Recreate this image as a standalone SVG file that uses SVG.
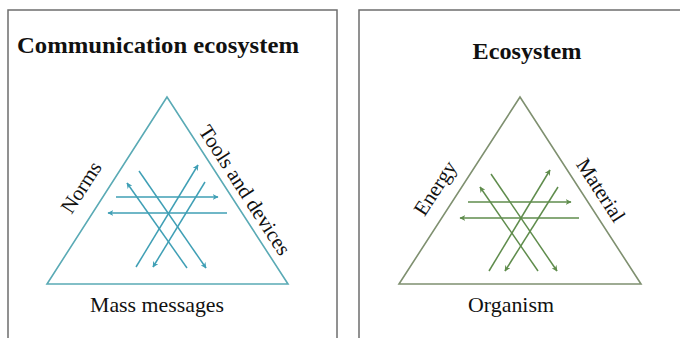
<svg xmlns="http://www.w3.org/2000/svg" width="680" height="338" viewBox="0 0 680 338">
<defs>
<style>
.frame{fill:none;stroke:#6e6e6e;stroke-width:1.5}
.title{font-family:'Liberation Serif','Times New Roman','DejaVu Serif',serif;font-weight:bold;font-size:23px;fill:#111}
.lbl{font-family:'Liberation Serif','Times New Roman','DejaVu Serif',serif;font-size:21px;fill:#111}
.triL{fill:none;stroke:#5aaab5;stroke-width:1.6}
.triR{fill:none;stroke:#7f9070;stroke-width:1.6}
.arL{fill:none;stroke:#3f9fb5;stroke-width:1.5;marker-end:url(#hL)}
.arR{fill:none;stroke:#5f8c4c;stroke-width:1.5;marker-end:url(#hR)}
</style>
<marker id="hL" viewBox="0 0 10 10" refX="9" refY="5" markerWidth="6" markerHeight="6" markerUnits="userSpaceOnUse" orient="auto"><path d="M0,0 L10,5 L0,10 L3,5 Z" fill="#3f9fb5"/></marker>
<marker id="hR" viewBox="0 0 10 10" refX="9" refY="5" markerWidth="6" markerHeight="6" markerUnits="userSpaceOnUse" orient="auto"><path d="M0,0 L10,5 L0,10 L3,5 Z" fill="#5f8c4c"/></marker>
</defs>
<rect width="680" height="338" fill="#fff"/>
<g id="panel-communication">
<rect class="frame" x="8" y="10" width="329" height="340"/>
<text class="title" font-family="Liberation Serif, serif" x="17" y="53" textLength="282" lengthAdjust="spacingAndGlyphs">Communication ecosystem</text>
<polygon class="triL" points="167,97 47,284 288,284"/>
<text class="lbl" font-family="Liberation Serif, serif" x="87" y="191" text-anchor="middle" transform="rotate(-57 87 191)">Norms</text>
<text class="lbl" font-family="Liberation Serif, serif" x="239" y="194" text-anchor="middle" transform="rotate(57 239 194)">Tools and devices</text>
<text class="lbl" font-family="Liberation Serif, serif" x="157" y="312" text-anchor="middle" textLength="134" lengthAdjust="spacingAndGlyphs">Mass messages</text>
</g>
<g id="panel-ecosystem">
<rect class="frame" x="359" y="10" width="340" height="340"/>
<text class="title" font-family="Liberation Serif, serif" x="527" y="59" text-anchor="middle" textLength="109" lengthAdjust="spacingAndGlyphs">Ecosystem</text>
<polygon class="triR" points="520,97 399,284 641,284"/>
<text class="lbl" font-family="Liberation Serif, serif" x="441" y="192" text-anchor="middle" transform="rotate(-57 441 192)">Energy</text>
<text class="lbl" font-family="Liberation Serif, serif" x="595" y="194" text-anchor="middle" transform="rotate(57 595 194)">Material</text>
<text class="lbl" font-family="Liberation Serif, serif" x="511" y="312" text-anchor="middle" textLength="86" lengthAdjust="spacingAndGlyphs">Organism</text>
</g>
<g id="connectors">
<line class="arL" x1="116" y1="197" x2="218" y2="197"/>
<line class="arL" x1="227" y1="213" x2="108" y2="213"/>
<line class="arL" x1="139" y1="171" x2="206" y2="268"/>
<line class="arL" x1="187" y1="268" x2="127" y2="183"/>
<line class="arL" x1="136" y1="267" x2="198" y2="165"/>
<line class="arL" x1="205" y1="182" x2="153" y2="267"/>
<line class="arR" x1="468" y1="202" x2="571" y2="202"/>
<line class="arR" x1="579" y1="218" x2="460" y2="218"/>
<line class="arR" x1="491" y1="174" x2="557" y2="271"/>
<line class="arR" x1="538" y1="271" x2="480" y2="187"/>
<line class="arR" x1="489" y1="271" x2="550" y2="170"/>
<line class="arR" x1="558" y1="187" x2="505" y2="271"/>
</g>
</svg>
